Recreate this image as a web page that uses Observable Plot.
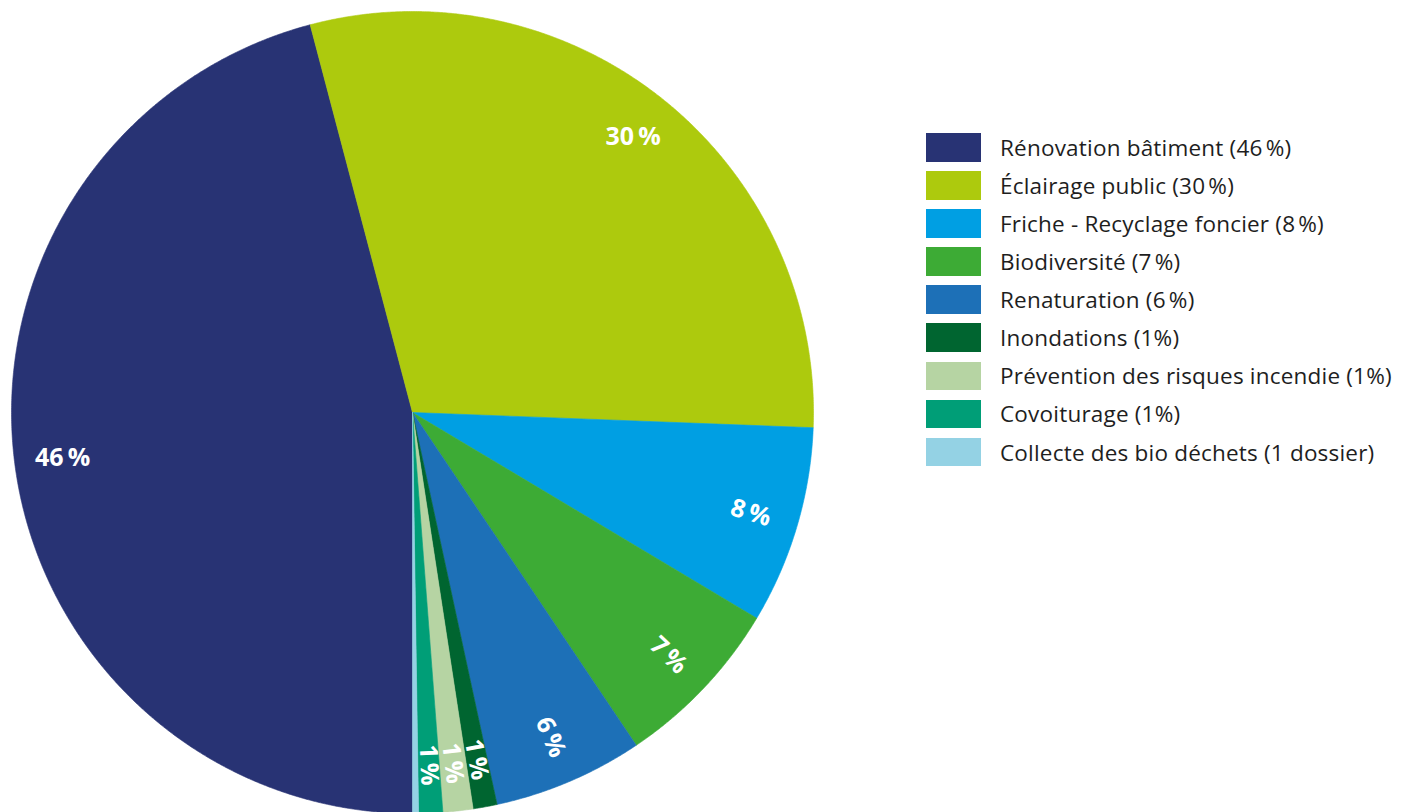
<!DOCTYPE html>
<html lang="fr">
<head>
<meta charset="utf-8">
<script src="https://cdn.jsdelivr.net/npm/d3@7"></script>
<script src="https://cdn.jsdelivr.net/npm/@observablehq/plot@0.6"></script>
<style>
  html, body { margin: 0; padding: 0; background: #fff; }
  body { width: 1402px; height: 812px; position: relative; overflow: hidden; font-family: "Open Sans", "Noto Sans", sans-serif; }
  #chart { position: absolute; left: 0; top: 0; }
  #legend { position: absolute; left: 926px; top: 133px; }
  .row { display: flex; align-items: center; height: 28.5px; margin-bottom: 9.6px; }
  .sw { width: 55px; height: 28.5px; flex: none; }
  .lb { margin-left: 19px; font-size: 22.5px; color: #1e1e1e; white-space: nowrap; letter-spacing: 0.2px; }
</style>
</head>
<body>
<div id="chart"></div>
<div id="legend"></div>
<script>
// Data
const categories = [
  "Rénovation bâtiment",
  "Éclairage public",
  "Friche - Recyclage foncier",
  "Biodiversité",
  "Renaturation",
  "Inondations",
  "Prévention des risques incendie",
  "Covoiturage",
  "Collecte des bio déchets"
];
const counts = [190, 123, 33, 29, 25, 4, 5, 4, 1];
const colors = ["#283374", "#adca0d", "#009fe3", "#3dab35", "#1d70b7", "#006530", "#b6d4a3", "#009e77", "#94d2e4"];
const legendLabels = [
  "Rénovation bâtiment (46\u202F%)",
  "Éclairage public (30\u202F%)",
  "Friche - Recyclage foncier (8\u202F%)",
  "Biodiversité (7\u202F%)",
  "Renaturation (6\u202F%)",
  "Inondations (1%)",
  "Prévention des risques incendie (1%)",
  "Covoiturage (1%)",
  "Collecte des bio déchets (1 dossier)"
];
const sliceLabels = ["46\u2009%", "30\u2009%", "8\u2009%", "7\u2009%", "6\u2009%", "1\u2009%", "1\u2009%", "1\u2009%", ""];

// Build pie geometry in unit space (angle clockwise from north, starting at the bottom)
const total = d3.sum(counts);
const startAngle = Math.PI;
let acc = startAngle;
const slices = categories.map((name, i) => {
  const a0 = acc;
  const a1 = acc + counts[i] / total * 2 * Math.PI;
  acc = a1;
  return {name, a0, a1, share: counts[i] / total, label: sliceLabels[i]};
});

const pts = [];
for (const s of slices) {
  const n = Math.max(2, Math.ceil((s.a1 - s.a0) / (Math.PI / 720)));
  pts.push({name: s.name, x: 0, y: 0});
  for (let k = 0; k <= n; k++) {
    const a = s.a0 + (s.a1 - s.a0) * k / n;
    pts.push({name: s.name, x: Math.sin(a), y: Math.cos(a)});
  }
  pts.push({name: s.name, x: 0, y: 0});
}

const labelR = 0.88;
const labels = slices.filter(s => s.label).map(s => {
  const m = (s.a0 + s.a1) / 2;
  const deg = m * 180 / Math.PI;
  return {
    text: s.label,
    x: labelR * Math.sin(m),
    y: labelR * Math.cos(m),
    rotate: s.share < 0.1 ? deg - 90 : 0
  };
});

const chart = Plot.plot({
  width: 830,
  height: 812,
  x: {domain: [-1, 1], range: [11, 813], axis: null},
  y: {domain: [-1, 1], range: [813, 11], axis: null},
  color: {domain: categories, range: colors},
  marks: [
    Plot.line(pts, {x: "x", y: "y", z: "name", fill: "name", stroke: "name", strokeWidth: 0.6, curve: "linear"}),
    Plot.text(labels, {x: "x", y: "y", text: "text", rotate: "rotate", fill: "white", fontSize: 25, fontWeight: 700, fontFamily: "Open Sans, sans-serif", style: "letter-spacing:0.8px"})
  ]
});
document.getElementById("chart").appendChild(chart);

const legend = d3.select("#legend");
categories.forEach((c, i) => {
  const row = legend.append("div").attr("class", "row");
  row.append("div").attr("class", "sw").style("background", colors[i]);
  row.append("div").attr("class", "lb").text(legendLabels[i]);
});
</script>
</body>
</html>
